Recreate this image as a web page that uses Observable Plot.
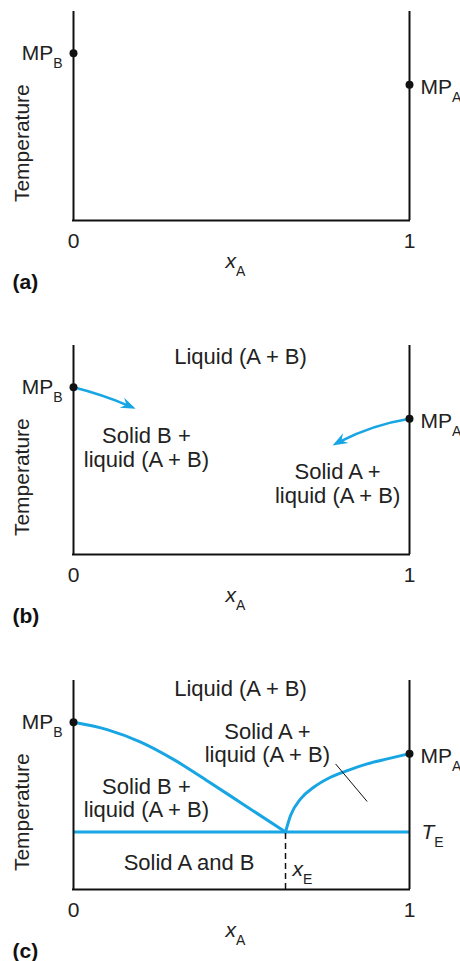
<!DOCTYPE html>
<html><head><meta charset="utf-8">
<script src="https://cdn.jsdelivr.net/npm/d3@7"></script>
<script src="https://cdn.jsdelivr.net/npm/@observablehq/plot@0.6"></script>
<style>
body{margin:0;background:#fff;}
#wrap{position:relative;width:460px;height:961px;overflow:hidden;background:#fff;}
.panel{position:absolute;left:0;}
</style></head><body><div id="wrap"></div>
<script>
// ---------- data ----------
const xTicks = [0, 1];
const meltX = [0, 1];
const meltT = [80, 65];
const meltLabels = ["MP_B", "MP_A"];
const eutecticX = 0.631;
const eutecticT = 27.5;
// liquidus of B (left branch)
const liqBx = [0, 0.1, 0.2, 0.3, 0.4, 0.5, 0.631];
const liqBy = [80, 76.5, 70.5, 62, 51.8, 41.3, 27.5];
// liquidus of A (right branch)
const liqAx = [0.631, 0.646, 0.676, 0.715, 0.765, 0.815, 0.874, 0.934, 1];
const liqAy = [27.5, 35.4, 43.4, 48.9, 53.7, 56.9, 60.1, 62.5, 65];
// panel (b) arrows: start and end
const arrowX1 = [0, 1], arrowY1 = [80, 65];
const arrowX2 = [0.185, 0.771], arrowY2 = [69.7, 52.2];
const arrowBend = [5, -10];
// leader line in panel (c)
const leaderX = [0.78, 0.874], leaderY = [60.1, 42.1];
// region labels
const labelsB = ["Liquid (A + B)", "Solid B +\nliquid (A + B)", "Solid A +\nliquid (A + B)"];
const labelsBx = [0.497, 0.217, 0.786];
const labelsBy = [95, 51.2, 34.2];
const labelsC = ["Liquid (A + B)", "Solid A +\nliquid (A + B)", "Solid B +\nliquid (A + B)", "Solid A and B"];
const labelsCx = [0.497, 0.577, 0.217, 0.344];
const labelsCy = [96, 70.1, 43.8, 13.1];
const panelLetters = ["(a)", "(b)", "(c)"];
const yTitle = "Temperature";
const xTitle = "x_A";

// ---------- style ----------
const BLUE = "#17a5e3";
const INK = "#222";
const BLACK = "#111";
const FONT = "'Liberation Sans', Arial, Helvetica, sans-serif";
const LABEL_SIZE = 22;
const FRAME_W = 336, FRAME_H = 209;

const melt = meltX.map((x, i) => ({x, y: meltT[i], label: meltLabels[i]}));
const liqB = liqBx.map((x, i) => ({x, y: liqBy[i]}));
const liqA = liqAx.map((x, i) => ({x, y: liqAy[i]}));
const arrows = arrowX1.map((x, i) => ({x1: x, y1: arrowY1[i], x2: arrowX2[i], y2: arrowY2[i], bend: arrowBend[i]}));
const toRows = (t, xs, ys) => t.map((text, i) => ({text, x: xs[i], y: ys[i]}));

// filled barbed arrowhead as a custom symbol, oriented along the arc's end tangent
function headSymbol(d) {
  const chord = Math.atan2(-(d.y2 - d.y1) / 100 * FRAME_H, (d.x2 - d.x1) * FRAME_W);
  const a = chord + d.bend * Math.PI / 180;
  const c = Math.cos(a), s = Math.sin(a);
  return {
    draw(ctx) {
      const L = 15, W = 11;
      const pts = [[0, 0], [-L, -W / 2], [-0.68 * L, 0], [-L, W / 2]];
      pts.forEach(([x, y], i) => {
        const X = x * c - y * s, Y = x * s + y * c;
        i ? ctx.lineTo(X, Y) : ctx.moveTo(X, Y);
      });
      ctx.closePath();
    }
  };
}

// turn "X_Y" labels into base + subscript
function subscripts(svg) {
  d3.select(svg).selectAll("text").each(function () {
    if (this.querySelector("tspan")) return;
    const m = /^(.*)_(.)$/.exec(this.textContent);
    if (!m) return;
    const el = d3.select(this);
    el.text(null);
    const base = el.append("tspan").text(m[1]);
    if (/^[xT]$/.test(m[1])) base.attr("font-style", "italic");
    el.append("tspan").attr("dy", 8).attr("font-size", 14).text(m[2]);
  });
}

const isLeft = (d) => d.x === 0;

function panel(top, height, letter, extra) {
  const marginBottom = height - 11 - FRAME_H;
  const svg = Plot.plot({
    width: 460, height, marginTop: 11, marginBottom, marginLeft: 73, marginRight: 51,
    x: {domain: [0, 1]},
    y: {domain: [0, 100], axis: null},
    style: {fontFamily: FONT, fontSize: "21px", color: INK, background: "#fff", overflow: "visible"},
    marks: [
      ...extra,
      Plot.ruleX(xTicks, {stroke: BLACK, strokeWidth: 2}),
      Plot.ruleY([0], {stroke: BLACK, strokeWidth: 2, strokeLinecap: "square"}),
      Plot.axisX(xTicks, {tickSize: 0, tickPadding: 13, label: null, fill: INK, tickFormat: (d) => String(d)}),
      Plot.dot(melt, {x: "x", y: "y", r: 4, fill: BLACK, stroke: null}),
      Plot.text(melt.filter(isLeft), {x: "x", y: "y", text: "label", textAnchor: "end", dx: -11, fill: INK}),
      Plot.text(melt.filter((d) => !isLeft(d)), {x: "x", y: "y", text: "label", textAnchor: "start", dx: 11, dy: 2.5, fill: INK}),
      Plot.text([yTitle], {frameAnchor: "left", y: [37], text: (d) => d, rotate: -90,
        textAnchor: "middle", lineAnchor: "bottom", dx: -45, fill: INK}),
      Plot.text([xTitle], {frameAnchor: "bottom", text: (d) => d, textAnchor: "middle", lineAnchor: "bottom",
        dx: -6, dy: 47, fill: INK}),
      Plot.text([letter], {frameAnchor: "bottom-left", text: (d) => d, textAnchor: "start",
        lineAnchor: "bottom", dx: -61, dy: 68, fontWeight: "bold", fill: "#111"})
    ]
  });
  const div = document.createElement("div");
  div.className = "panel";
  div.style.top = top + "px";
  div.appendChild(svg);
  document.getElementById("wrap").appendChild(div);
  subscripts(svg);
  return svg;
}

// (a)
panel(0, 300, panelLetters[0], []);

// (b)
panel(334, 300, panelLetters[1], [
  Plot.text(toRows(labelsB, labelsBx, labelsBy), {x: "x", y: "y", text: "text", lineHeight: 1.08, fontSize: LABEL_SIZE, fill: INK}),
  ...arrows.flatMap((d) => [
    Plot.arrow([d], {x1: "x1", y1: "y1", x2: "x2", y2: "y2", bend: d.bend,
      stroke: BLUE, strokeWidth: 2.5, headLength: 0, insetEnd: 7}),
    Plot.dot([d], {x: "x2", y: "y2", symbol: headSymbol(d), fill: BLUE, stroke: null, r: 6})
  ])
]);

// (c)
panel(669, 292, panelLetters[2], [
  Plot.ruleY([eutecticT], {stroke: BLUE, strokeWidth: 3}),
  Plot.line(liqB, {x: "x", y: "y", stroke: BLUE, strokeWidth: 3, curve: "monotone-x"}),
  Plot.line(liqA, {x: "x", y: "y", stroke: BLUE, strokeWidth: 3, curve: "monotone-x"}),
  Plot.ruleX([eutecticX], {y1: 0, y2: eutecticT, stroke: BLACK, strokeWidth: 1.5, strokeDasharray: "6,4"}),
  Plot.link([0], {x1: () => leaderX[0], y1: () => leaderY[0], x2: () => leaderX[1], y2: () => leaderY[1], stroke: BLACK, strokeWidth: 1}),
  Plot.text(toRows(labelsC, labelsCx, labelsCy), {x: "x", y: "y", text: "text", lineHeight: 1.08, fontSize: LABEL_SIZE, fill: INK}),
  Plot.text(["x_E"], {x: [eutecticX], frameAnchor: "bottom", text: (d) => d, textAnchor: "start",
    lineAnchor: "bottom", dx: 7, dy: -14, fill: INK}),
  Plot.text(["T_E"], {x: [1], y: [eutecticT], text: (d) => d, textAnchor: "start", dx: 12, fill: INK})
]);
</script></body></html>
